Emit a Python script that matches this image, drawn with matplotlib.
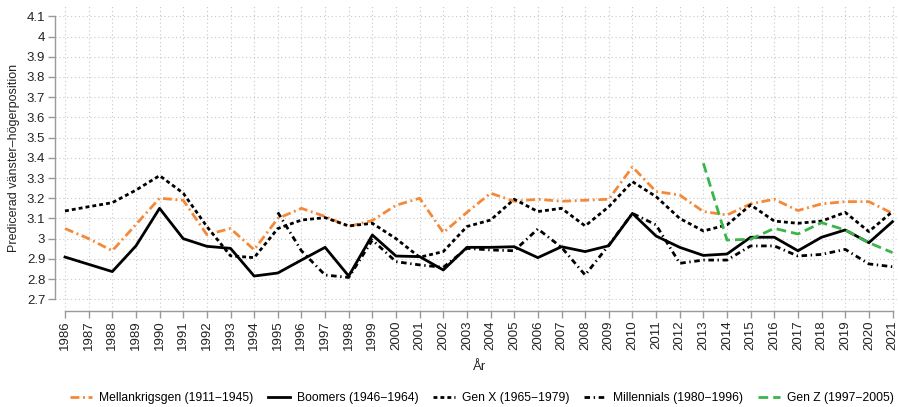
import numpy as np
import matplotlib
matplotlib.use("Agg")
import matplotlib.pyplot as plt

plt.rcParams["font.family"] = ["Liberation Sans", "DejaVu Sans"]

# Years on the x axis
years = np.arange(1986, 2022)

# Predicted left-right position per generation
mellankrigsgen = [3.05, 3.00, 2.94, 3.07, 3.20, 3.19, 3.02, 3.05, 2.945, 3.10,
                  3.15, 3.11, 3.06, 3.09, 3.165, 3.20, 3.03, 3.13, 3.225, 3.185,
                  3.195, 3.185, 3.19, 3.195, 3.355, 3.233, 3.216, 3.134, 3.117, 3.172,
                  3.195, 3.139, 3.172, 3.183, 3.183, 3.125]
boomers = [2.909, 2.873, 2.837, 2.964, 3.15, 3.0, 2.962, 2.952, 2.815, 2.83,
           2.894, 2.957, 2.815, 3.018, 2.914, 2.911, 2.845, 2.957, 2.957, 2.96,
           2.906, 2.96, 2.936, 2.965, 3.125, 3.013, 2.957, 2.917, 2.924, 3.007,
           3.007, 2.94, 3.007, 3.043, 2.98, 3.084]
gen_x = [3.137, 3.158, 3.178, 3.24, 3.312, 3.225, 3.06, 2.915, 2.906, 3.05,
         3.092, 3.104, 3.063, 3.076, 3.0, 2.908, 2.936, 3.06, 3.092, 3.195,
         3.134, 3.15, 3.063, 3.158, 3.282, 3.208, 3.10, 3.038, 3.068, 3.167,
         3.087, 3.076, 3.087, 3.13, 3.035, 3.134]
# Millennials start 1995
millennials_years = np.arange(1995, 2022)
millennials = [3.13, 2.94, 2.82, 2.808, 2.993, 2.886, 2.87, 2.858, 2.952, 2.944,
               2.94, 3.048, 2.957, 2.82, 2.968, 3.125, 3.068, 2.878, 2.894, 2.894,
               2.964, 2.964, 2.914, 2.922, 2.947, 2.875, 2.861]
# Gen Z start 2013
gen_z_years = np.arange(2013, 2022)
gen_z = [3.373, 2.993, 2.997, 3.051, 3.023, 3.079, 3.043, 2.98, 2.931]

W, H = 898, 407
fig = plt.figure(figsize=(W / 100, H / 100), dpi=100)
left, right, top, bottom = 55, 898, 5, 310.6
ax = fig.add_axes([left / W, 1 - bottom / H, (right - left) / W, (bottom - top) / H])

x_first, x_last = 65, 892.5
px_per_year = (x_last - x_first) / 35
ax.set_xlim(1986 - (x_first - left) / px_per_year, 2021 + (right - x_last) / px_per_year)
ax.set_ylim(2.644, 4.156)

lw = 2.0
ax.plot(years, mellankrigsgen, color="#F4893A", lw=lw, dashes=(3.2, 1.3, 0.7, 1.3),
        label="Mellankrigsgen (1911\u22121945)")
ax.plot(years, boomers, color="black", lw=lw, label="Boomers (1946\u22121964)")
ax.plot(years, gen_x, color="black", lw=lw, dashes=(1.4, 1.1),
        label="Gen X (1965\u22121979)")
ax.plot(millennials_years, millennials, color="black", lw=lw, dashes=(2.0, 1.3, 0.5, 1.3),
        label="Millennials (1980\u22121996)")
ax.plot(gen_z_years, gen_z, color="#3AB54A", lw=lw, dashes=(3.5, 1.8),
        label="Gen Z (1997\u22122005)")

yticks = np.round(np.arange(2.7, 4.1001, 0.1), 1)
ax.set_yticks(yticks)
ax.set_yticklabels([("%g" % v) for v in yticks], fontsize=9.5, color="#222222")
ax.set_xticks(years)
ax.set_xticklabels([str(y) for y in years], rotation=90, fontsize=9.5, color="#222222")

ax.grid(True, color="#c8c8c8", linestyle=(0, (1, 2.5)), linewidth=0.8)
ax.set_axisbelow(True)

for s in ["top", "right"]:
    ax.spines[s].set_visible(False)
ax.spines["left"].set_bounds(2.7, 4.1)
ax.spines["bottom"].set_bounds(1986, 2021)
for s in ["left", "bottom"]:
    ax.spines[s].set_color("#999999")
    ax.spines[s].set_linewidth(1.0)
ax.tick_params(axis="both", colors="#999999", length=5, width=1.0, labelcolor="#222222")
ax.tick_params(axis="x", pad=2)
ax.tick_params(axis="y", pad=2)

ax.set_ylabel("Predicerad v\u00e4nster\u2013h\u00f6gerposition", fontsize=9, color="#222222",
              labelpad=5)
fig.text(480 / W, 1 - 367 / H, "\u00c5r", ha="center", va="center", fontsize=9.5,
         color="#222222")

handles, labels = ax.get_legend_handles_labels()
fig.legend(handles, labels, loc="center", bbox_to_anchor=(482 / W, 1 - 398 / H),
           ncol=5, frameon=False, fontsize=8.7, handlelength=1.8, handletextpad=0.6,
           columnspacing=1.2, borderaxespad=0, borderpad=0)

fig.savefig("out.png", dpi=100)
